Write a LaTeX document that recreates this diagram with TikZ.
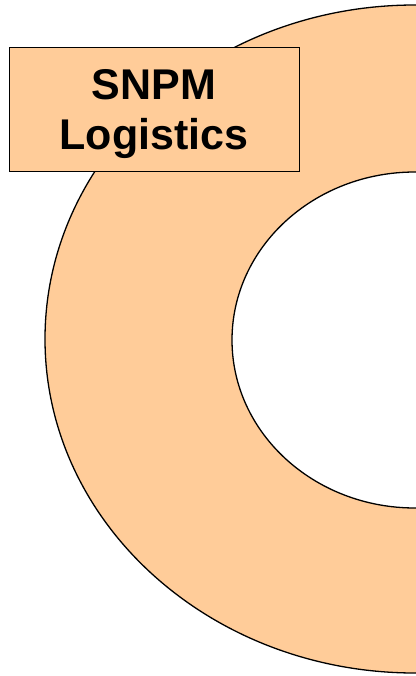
\documentclass[tikz,border=0pt]{standalone}
\usepackage{fontspec}
\setmainfont{Liberation Sans}
\definecolor{peach}{HTML}{FFCC99}
\tikzset{
  ring/.style={fill=peach, draw=black, line width=1.3pt, even odd rule},
  labelbox/.style={fill=peach, draw=black, line width=0.9pt, minimum width=290pt, minimum height=124pt, inner sep=0pt, align=center},
  labeltext/.style={font=\fontsize{43}{50}\selectfont\bfseries, align=center, inner sep=0pt}
}
\begin{document}
\begin{tikzpicture}[x=1pt,y=-1pt]
\useasboundingbox (0,0) rectangle (415,676);
\path[ring] (415,339) ellipse [x radius=370, y radius=334]
            (415,340) ellipse [x radius=183, y radius=168];
\node[labelbox] (title) at (154,109) {};
\node[labeltext] (titletext) at (154,114) {SNPM\\Logistics};
\end{tikzpicture}
\end{document}
